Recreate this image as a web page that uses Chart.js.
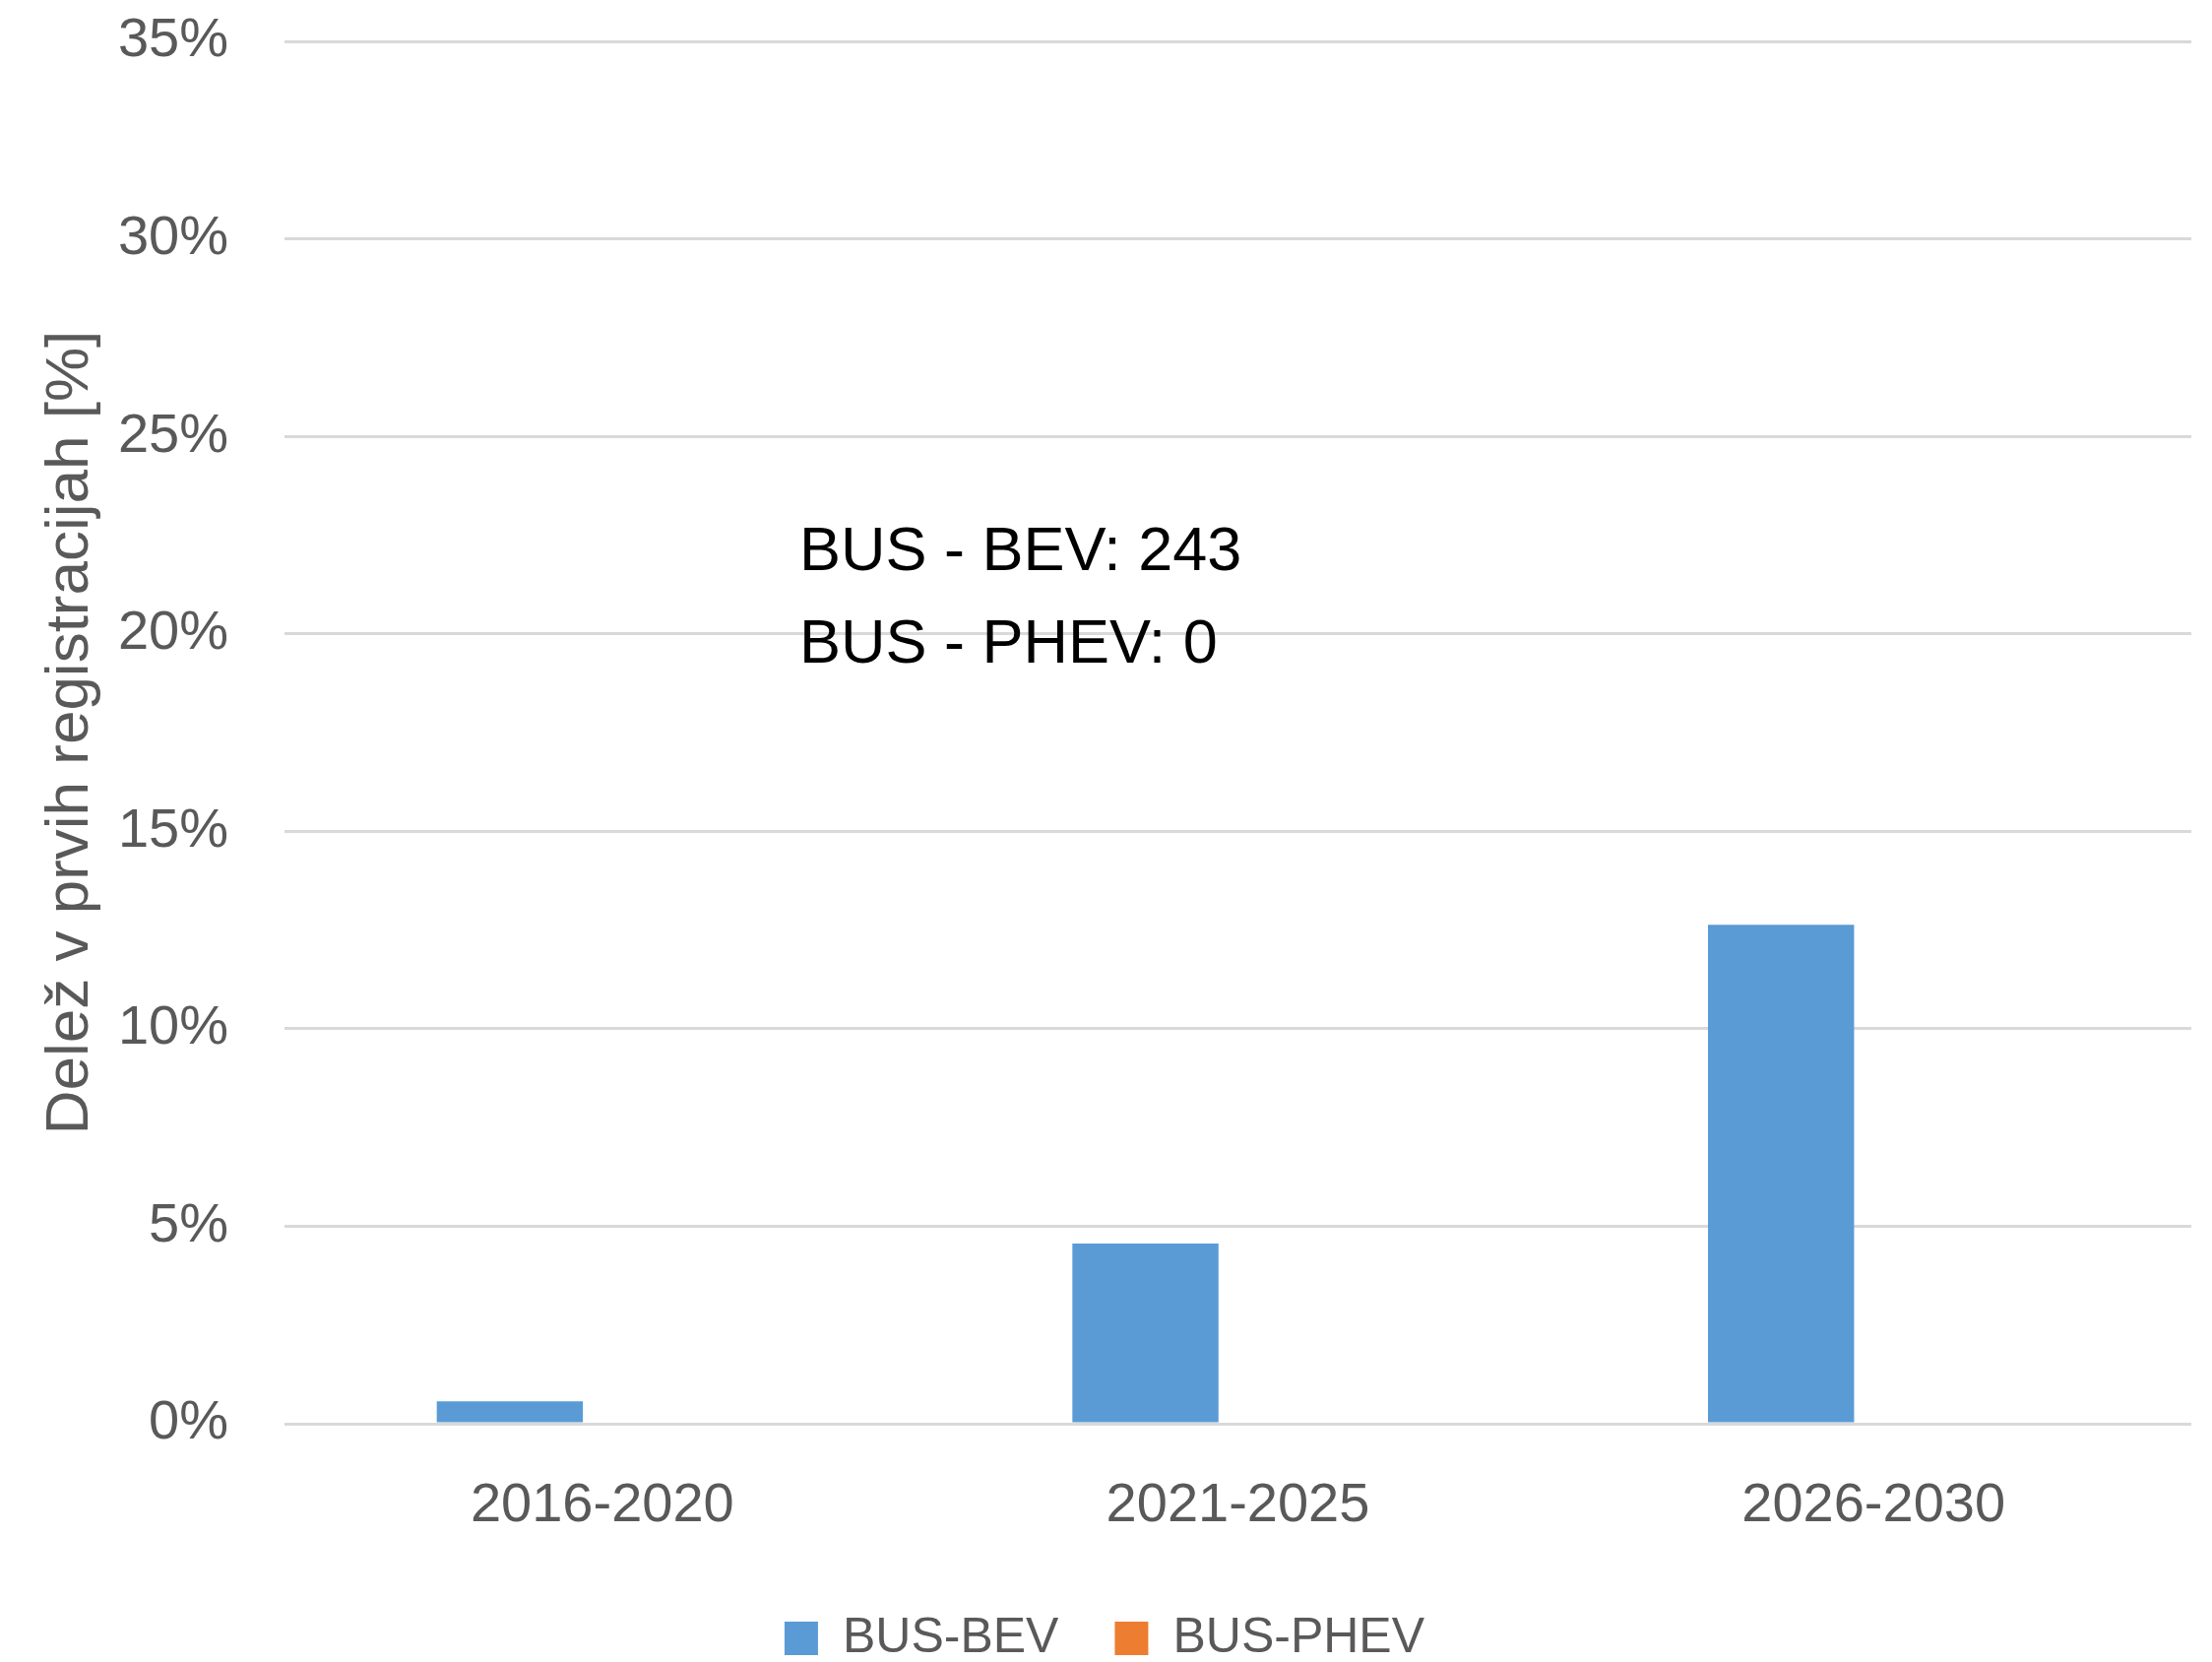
<!DOCTYPE html>
<html>
<head>
<meta charset="utf-8">
<script src="https://cdn.jsdelivr.net/npm/chart.js@4/dist/chart.umd.min.js"></script>
<style>
  html, body { margin: 0; padding: 0; background: #ffffff; }
  #wrap { width: 2247px; height: 1688px; position: relative; }
</style>
</head>
<body>
<div id="wrap"><canvas id="c" width="2247" height="1688"></canvas></div>
<script>
const categories = ["2016-2020", "2021-2025", "2026-2030"];
const seriesNames = ["BUS-BEV", "BUS-PHEV"];
const busBev = [0.57, 4.56, 12.63];
const busPhev = [0, 0, 0];
const yTicksMax = 35;
const yTickStep = 5;
const yAxisTitle = "Delež v prvih registracijah [%]";
const noteLines = ["BUS - BEV: 243", "BUS - PHEV: 0"];

const FONT = "'Liberation Sans', Arial, sans-serif";
const GRAY = "#595959";

const notePlugin = {
  id: 'note',
  afterDatasetsDraw(chart) {
    const ctx = chart.ctx;
    const a = chart.chartArea;
    const y = chart.scales.y;
    ctx.save();
    ctx.fillStyle = '#000000';
    ctx.font = "63px " + FONT;
    ctx.textAlign = 'left';
    ctx.textBaseline = 'middle';
    const x0 = a.left + (a.right - a.left) * 0.27;
    ctx.fillText(noteLines[0], x0, y.getPixelForValue(22.05));
    ctx.fillText(noteLines[1], x0, y.getPixelForValue(19.7));
    ctx.restore();
  }
};

new Chart(document.getElementById('c'), {
  type: 'bar',
  data: {
    labels: categories,
    datasets: [
      { label: seriesNames[0], data: busBev, backgroundColor: '#5B9BD5', borderWidth: 0 },
      { label: seriesNames[1], data: busPhev, backgroundColor: '#ED7D31', borderWidth: 0 }
    ]
  },
  options: {
    responsive: false,
    animation: false,
    devicePixelRatio: 1,
    categoryPercentage: 0.582,
    barPercentage: 0.79,
    layout: { padding: { left: 18, right: 21, top: 42, bottom: -11 } },
    plugins: {
      legend: {
        position: 'bottom',
        labels: {
          font: { family: FONT, size: 50 },
          color: GRAY,
          boxWidth: 34,
          boxHeight: 34,
          padding: 57
        }
      },
      tooltip: { enabled: false },
      title: { display: false }
    },
    scales: {
      x: {
        grid: { display: false, drawTicks: false },
        border: { display: false },
        ticks: { font: { family: FONT, size: 56 }, color: GRAY, padding: 50 },
        afterFit(scale) { scale.height = 136; }
      },
      y: {
        min: 0,
        max: yTicksMax,
        ticks: {
          stepSize: yTickStep,
          font: { family: FONT, size: 56 },
          color: GRAY,
          padding: 57,
          callback: v => v + '%'
        },
        grid: { color: '#D9D9D9', lineWidth: 3, drawTicks: false },
        border: { display: false },
        title: {
          display: true,
          text: yAxisTitle,
          font: { family: FONT, size: 62 },
          color: GRAY,
          padding: { top: 17, bottom: 0 }
        },
        afterFit(scale) {
          scale.width = 271;
          scale.paddingTop = 0;
          scale.paddingBottom = 0;
        }
      }
    }
  },
  plugins: [notePlugin]
});
</script>
</body>
</html>
